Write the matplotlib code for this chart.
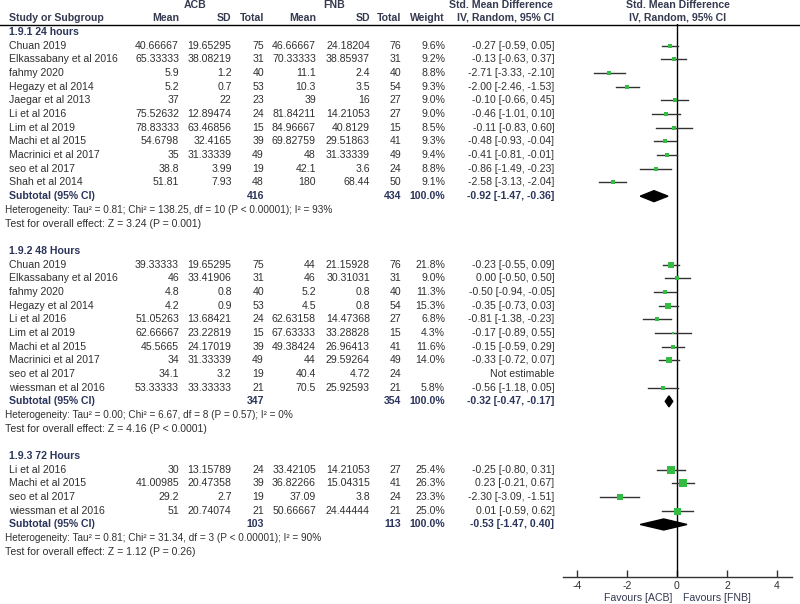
import numpy as np
import matplotlib.pyplot as plt
from matplotlib.patches import Polygon

plt.rcParams['font.family'] = ['Liberation Sans', 'DejaVu Sans']

# ---- data ----
groups = ['1.9.1 24 hours', '1.9.2 48 Hours', '1.9.3 72 Hours']

studies_24 = ['Chuan 2019', 'Elkassabany et al 2016', 'fahmy 2020', 'Hegazy et al 2014',
              'Jaegar et al 2013', 'Li et al 2016', 'Lim et al 2019', 'Machi et al 2015',
              'Macrinici et al 2017', 'seo et al 2017', 'Shah et al 2014']
acb_mean_24 = ['40.66667', '65.33333', '5.9', '5.2', '37', '75.52632', '78.83333', '54.6798', '35', '38.8', '51.81']
acb_sd_24 = ['19.65295', '38.08219', '1.2', '0.7', '22', '12.89474', '63.46856', '32.4165', '31.33339', '3.99', '7.93']
acb_n_24 = [75, 31, 40, 53, 23, 24, 15, 39, 49, 19, 48]
fnb_mean_24 = ['46.66667', '70.33333', '11.1', '10.3', '39', '81.84211', '84.96667', '69.82759', '48', '42.1', '180']
fnb_sd_24 = ['24.18204', '38.85937', '2.4', '3.5', '16', '14.21053', '40.8129', '29.51863', '31.33339', '3.6', '68.44']
fnb_n_24 = [76, 31, 40, 54, 27, 27, 15, 41, 49, 24, 50]
weight_24 = [9.6, 9.2, 8.8, 9.3, 9.0, 9.0, 8.5, 9.3, 9.4, 8.8, 9.1]
smd_24 = [-0.27, -0.13, -2.71, -2.00, -0.10, -0.46, -0.11, -0.48, -0.41, -0.86, -2.58]
lo_24 = [-0.59, -0.63, -3.33, -2.46, -0.66, -1.01, -0.83, -0.93, -0.81, -1.49, -3.13]
hi_24 = [0.05, 0.37, -2.10, -1.53, 0.45, 0.10, 0.60, -0.04, -0.01, -0.23, -2.04]

studies_48 = ['Chuan 2019', 'Elkassabany et al 2016', 'fahmy 2020', 'Hegazy et al 2014',
              'Li et al 2016', 'Lim et al 2019', 'Machi et al 2015', 'Macrinici et al 2017',
              'seo et al 2017', 'wiessman et al 2016']
acb_mean_48 = ['39.33333', '46', '4.8', '4.2', '51.05263', '62.66667', '45.5665', '34', '34.1', '53.33333']
acb_sd_48 = ['19.65295', '33.41906', '0.8', '0.9', '13.68421', '23.22819', '24.17019', '31.33339', '3.2', '33.33333']
acb_n_48 = [75, 31, 40, 53, 24, 15, 39, 49, 19, 21]
fnb_mean_48 = ['44', '46', '5.2', '4.5', '62.63158', '67.63333', '49.38424', '44', '40.4', '70.5']
fnb_sd_48 = ['21.15928', '30.31031', '0.8', '0.8', '14.47368', '33.28828', '26.96413', '29.59264', '4.72', '25.92593']
fnb_n_48 = [76, 31, 40, 54, 27, 15, 41, 49, 24, 21]
weight_48 = [21.8, 9.0, 11.3, 15.3, 6.8, 4.3, 11.6, 14.0, None, 5.8]
smd_48 = [-0.23, 0.00, -0.50, -0.35, -0.81, -0.17, -0.15, -0.33, None, -0.56]
lo_48 = [-0.55, -0.50, -0.94, -0.73, -1.38, -0.89, -0.59, -0.72, None, -1.18]
hi_48 = [0.09, 0.50, -0.05, 0.03, -0.23, 0.55, 0.29, 0.07, None, 0.05]

studies_72 = ['Li et al 2016', 'Machi et al 2015', 'seo et al 2017', 'wiessman et al 2016']
acb_mean_72 = ['30', '41.00985', '29.2', '51']
acb_sd_72 = ['13.15789', '20.47358', '2.7', '20.74074']
acb_n_72 = [24, 39, 19, 21]
fnb_mean_72 = ['33.42105', '36.82266', '37.09', '50.66667']
fnb_sd_72 = ['14.21053', '15.04315', '3.8', '24.44444']
fnb_n_72 = [27, 41, 24, 21]
weight_72 = [25.4, 26.3, 23.3, 25.0]
smd_72 = [-0.25, 0.23, -2.30, 0.01]
lo_72 = [-0.80, -0.21, -3.09, -0.59]
hi_72 = [0.31, 0.67, -1.51, 0.62]

sub_acb_n = [416, 347, 103]
sub_fnb_n = [434, 354, 113]
sub_smd = [-0.92, -0.32, -0.53]
sub_lo = [-1.47, -0.47, -1.47]
sub_hi = [-0.36, -0.17, 0.40]
heterogeneity = ['Heterogeneity: Tau² = 0.81; Chi² = 138.25, df = 10 (P < 0.00001); I² = 93%',
                 'Heterogeneity: Tau² = 0.00; Chi² = 6.67, df = 8 (P = 0.57); I² = 0%',
                 'Heterogeneity: Tau² = 0.81; Chi² = 31.34, df = 3 (P < 0.00001); I² = 90%']
overall = ['Test for overall effect: Z = 3.24 (P = 0.001)',
           'Test for overall effect: Z = 4.16 (P < 0.0001)',
           'Test for overall effect: Z = 1.12 (P = 0.26)']
ticks = [-4, -2, 0, 2, 4]

data = [
    (studies_24, acb_mean_24, acb_sd_24, acb_n_24, fnb_mean_24, fnb_sd_24, fnb_n_24, weight_24, smd_24, lo_24, hi_24),
    (studies_48, acb_mean_48, acb_sd_48, acb_n_48, fnb_mean_48, fnb_sd_48, fnb_n_48, weight_48, smd_48, lo_48, hi_48),
    (studies_72, acb_mean_72, acb_sd_72, acb_n_72, fnb_mean_72, fnb_sd_72, fnb_n_72, weight_72, smd_72, lo_72, hi_72),
]

# ---- layout ----
W, H = 800, 604
FS = 7.6
TXT = '#303030'
NAVY = '#2c355c'
HEAD = '#353a50'
GREEN = '#33bb44'
col_x = [179, 231.7, 264, 316, 370, 401, 445, 554.5]   # right edges of table columns
y0, step = 32, 13.68

fig = plt.figure(figsize=(W / 100, H / 100), dpi=100)
tab = fig.add_axes([0, 0, 1, 1])
tab.set_xlim(0, W)
tab.set_ylim(H, 0)
tab.axis('off')

# forest panel shares the table's vertical pixel scale
x_left, x_right, zero_px, unit_px = 563, 792, 677, 25.0
y_axis, y_top = 577, 24
ax = fig.add_axes([x_left / W, (H - y_axis) / H, (x_right - x_left) / W, (y_axis - y_top) / H])
ax.set_xlim((x_left - zero_px) / unit_px, (x_right - zero_px) / unit_px)
ax.set_ylim(y_axis, y_top)
ax.patch.set_alpha(0)
for s in ['top', 'right', 'left']:
    ax.spines[s].set_visible(False)
ax.spines['bottom'].set_color('#333333')
ax.spines['bottom'].set_linewidth(1)
ax.set_yticks([])
ax.set_xticks(ticks)
ax.set_xticklabels([str(t) for t in ticks])
ax.tick_params(axis='x', direction='in', length=5, width=1, colors='#333333',
               labelsize=FS, labelcolor=TXT, pad=3)
ax.axvline(0, color='black', lw=1)


def txt(x, y, s, ha='right', bold=False, color=TXT, size=FS):
    tab.text(x, y, s, ha=ha, va='center', fontsize=size, color=color,
             fontweight='bold' if bold else 'normal')


# header
txt(195.5, 5, 'ACB', ha='center', bold=True, color=HEAD)
txt(334, 5, 'FNB', ha='center', bold=True, color=HEAD)
txt(501, 5, 'Std. Mean Difference', ha='center', bold=True, color=HEAD)
txt(677.5, 5, 'Std. Mean Difference', ha='center', bold=True, color=HEAD)
txt(9, 18, 'Study or Subgroup', ha='left', bold=True, color=HEAD)
for x, lab in zip(col_x, ['Mean', 'SD', 'Total', 'Mean', 'SD', 'Total', 'Weight', 'IV, Random, 95% CI']):
    txt(x, 18, lab, bold=True, color=HEAD)
txt(677.5, 18, 'IV, Random, 95% CI', ha='center', bold=True, color=HEAD)
tab.plot([0, W], [24.5, 24.5], color='black', lw=1)

r = 0
for g, rows in enumerate(data):
    names, am, asd, an, fm, fsd, fn, wt, est, lo, hi = rows
    txt(9, y0 + r * step, groups[g], ha='left', bold=True, color=NAVY)
    r += 1
    for i in range(len(names)):
        y = y0 + r * step
        txt(9, y, names[i], ha='left')
        vals = [am[i], asd[i], str(an[i]), fm[i], fsd[i], str(fn[i])]
        for x, v in zip(col_x[:6], vals):
            txt(x, y, v)
        if est[i] is None:
            txt(col_x[7], y, 'Not estimable')
        else:
            txt(col_x[6], y, f'{wt[i]:.1f}%')
            txt(col_x[7], y, f'{est[i]:.2f} [{lo[i]:.2f}, {hi[i]:.2f}]')
            ax.plot([lo[i], hi[i]], [y, y], color='#333333', lw=1, zorder=2)
            side = 1.4 * np.sqrt(wt[i]) * 0.72
            ax.scatter([est[i]], [y], marker='s', s=side ** 2, color=GREEN, lw=0, zorder=3)
        r += 1
    # subtotal
    y = y0 + r * step
    txt(9, y, 'Subtotal (95% CI)', ha='left', bold=True, color=NAVY)
    txt(col_x[2], y, str(sub_acb_n[g]), bold=True, color=NAVY)
    txt(col_x[5], y, str(sub_fnb_n[g]), bold=True, color=NAVY)
    txt(col_x[6], y, '100.0%', bold=True, color=NAVY)
    txt(col_x[7], y, f'{sub_smd[g]:.2f} [{sub_lo[g]:.2f}, {sub_hi[g]:.2f}]', bold=True, color=NAVY)
    hh = 5.5
    ax.add_patch(Polygon([(sub_lo[g], y), (sub_smd[g], y - hh), (sub_hi[g], y), (sub_smd[g], y + hh)],
                         closed=True, color='black', zorder=3))
    r += 1
    txt(5, y0 + r * step, heterogeneity[g], ha='left', size=7.2)
    r += 1
    txt(5, y0 + r * step, overall[g], ha='left')
    r += 2

txt(672, 598, 'Favours [ACB]', color=HEAD)
txt(683, 598, 'Favours [FNB]', ha='left', color=HEAD)

fig.savefig('out.png', dpi=100)
